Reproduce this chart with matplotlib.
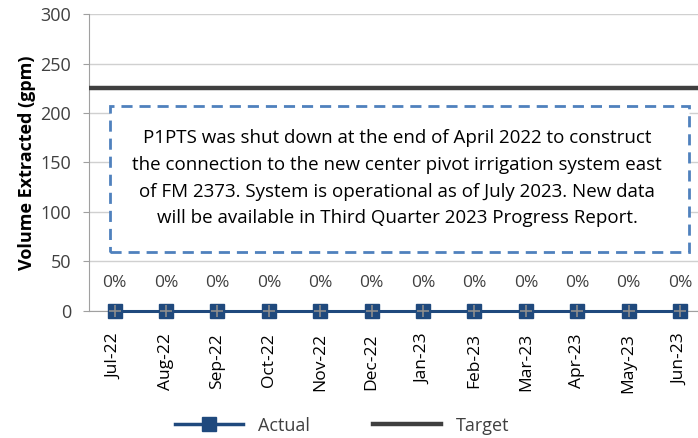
import matplotlib
matplotlib.use("Agg")
import matplotlib.pyplot as plt
from matplotlib.lines import Line2D
from matplotlib.patches import Rectangle

plt.rcParams["font.family"] = ["Open Sans", "DejaVu Sans"]

months = ["Jul-22", "Aug-22", "Sep-22", "Oct-22", "Nov-22", "Dec-22",
          "Jan-23", "Feb-23", "Mar-23", "Apr-23", "May-23", "Jun-23"]
actual = [0, 0, 0, 0, 0, 0, 0, 0, 0, 0, 0, 0]
pct_labels = ["0%"] * 12
target = 225
note = ("P1PTS was shut down at the end of April 2022 to construct\n"
        "the connection to the new center pivot irrigation system east\n"
        "of FM 2373. System is operational as of July 2023. New data\n"
        "will be available in Third Quarter 2023 Progress Report.")

BLUE, DARK, GRID, TXT, BOX = "#1F497D", "#3F3F3F", "#D0D0D0", "#404040", "#4F81BD"

fig = plt.figure(figsize=(6.98, 4.38), dpi=100)
ax = fig.add_axes([0.1275, 0.29, 0.8725, 0.678])

x = list(range(len(months)))
ax.axhline(target, color=DARK, lw=3.2, zorder=3)
ax.plot(x, actual, color=BLUE, lw=2.2, marker="s", markersize=10,
        markerfacecolor=BLUE, markeredgecolor=BLUE, zorder=4, clip_on=False)
ax.plot(x, actual, ls="none", marker="+", markersize=9, mew=1.2,
        color="#8C8C8C", zorder=5, clip_on=False)
for xi, yi, lab in zip(x, actual, pct_labels):
    ax.annotate(lab, (xi, yi), xytext=(0, 20), textcoords="offset points",
                ha="center", va="center", fontsize=12.5, color=TXT)

ax.set_xlim(-0.5, 11.35)
ax.set_ylim(0, 300)
ax.set_yticks(range(0, 301, 50))
ax.set_xticks(x)
ax.set_xticklabels(months, rotation=90, fontsize=12.5, color="black")
ax.tick_params(axis="y", labelsize=13, labelcolor=TXT, length=4, color="#A0A0A0", pad=9)
ax.tick_params(axis="x", length=4, color="#A0A0A0", pad=12)
ax.grid(axis="y", color=GRID, lw=1)
ax.set_axisbelow(True)
for s in ["top", "right"]:
    ax.spines[s].set_visible(False)
for s in ["left", "bottom"]:
    ax.spines[s].set_color("#A0A0A0")
ax.set_ylabel("Volume Extracted (gpm)", fontsize=13, fontweight="bold", labelpad=3)

ax.add_patch(Rectangle((-0.1, 60), 11.27, 147, fill=True, facecolor="white",
                       edgecolor=BOX, lw=2, ls=(0, (4, 2.5)), zorder=6))
ax.text(5.5, 134, note, ha="center", va="center", fontsize=13.5,
        linespacing=1.62, color="black", zorder=7)

handles = [Line2D([], [], color=BLUE, lw=2.5, marker="s", markersize=10),
           Line2D([], [], color=DARK, lw=3.2)]
fig.legend(handles, ["Actual", "Target"], loc="center", ncol=2,
           bbox_to_anchor=(0.49, 0.028), frameon=False, fontsize=13,
           handlelength=3.8, columnspacing=3.5, labelcolor=TXT)

fig.savefig("out.png", dpi=100)
